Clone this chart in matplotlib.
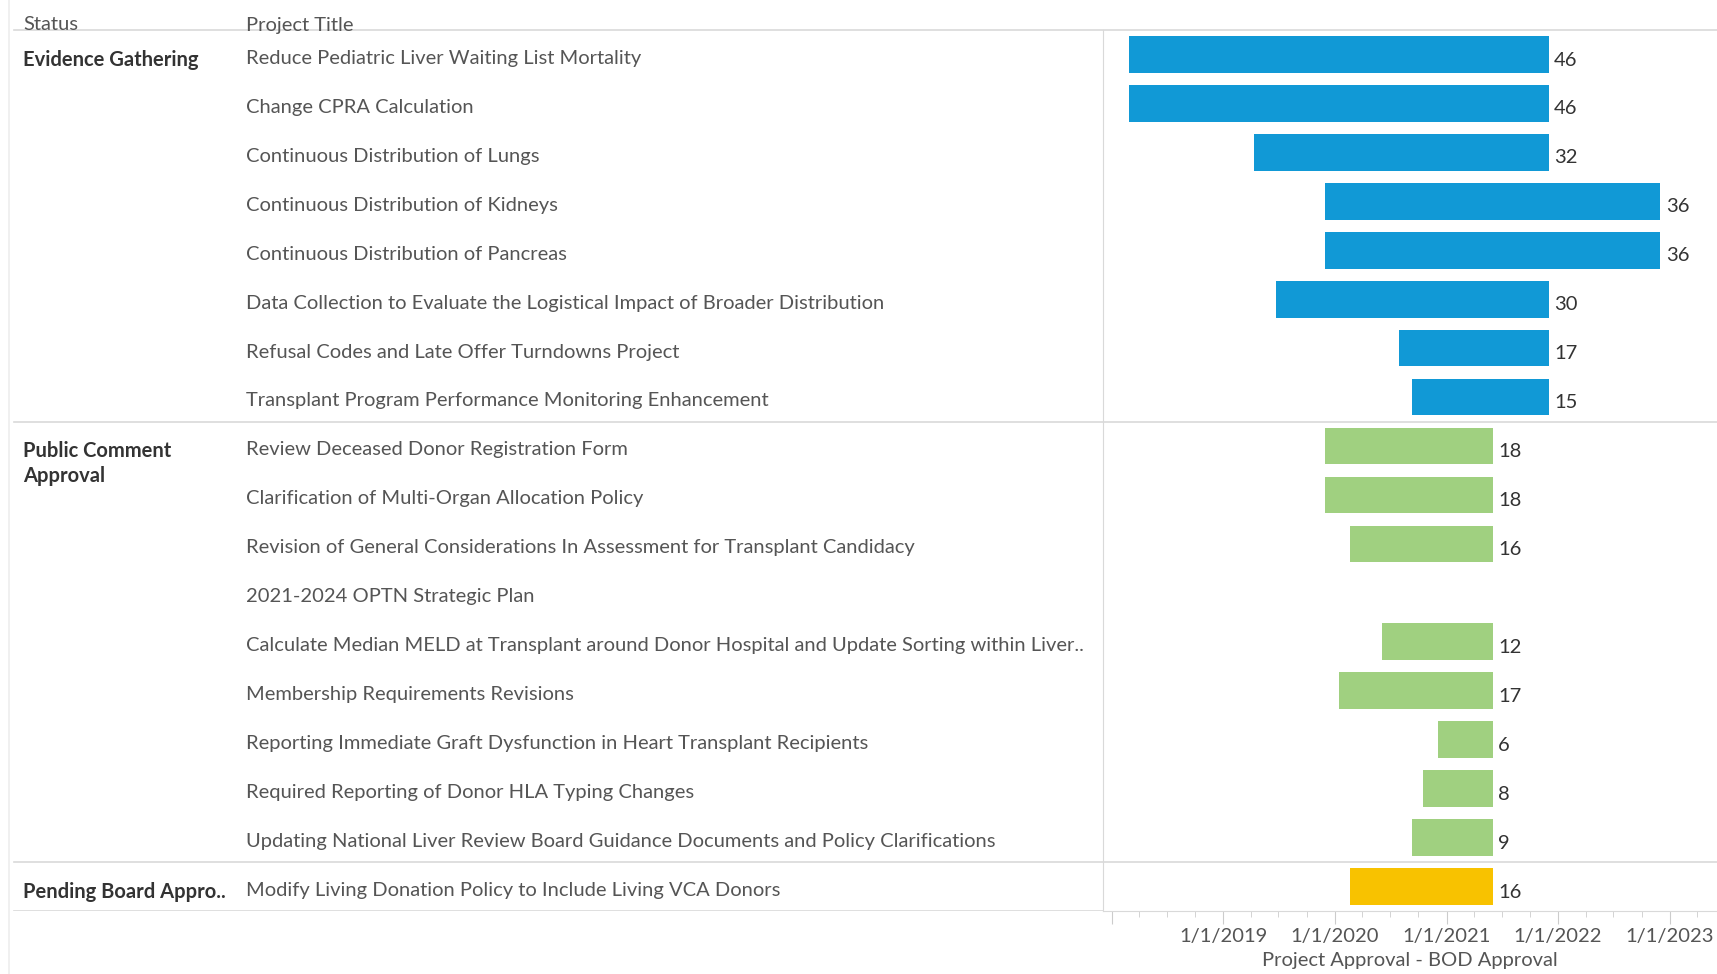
import matplotlib
matplotlib.use("Agg")
import matplotlib.pyplot as plt
import matplotlib.dates as mdates
from matplotlib.lines import Line2D
import pandas as pd

plt.rcParams['font.family'] = ['Lato', 'DejaVu Sans']

# data
statuses = ["Evidence Gathering", "Public Comment\nApproval", "Pending Board Appro.."]
status_counts = [8, 9, 1]
titles = [
    "Reduce Pediatric Liver Waiting List Mortality",
    "Change CPRA Calculation",
    "Continuous Distribution of Lungs",
    "Continuous Distribution of Kidneys",
    "Continuous Distribution of Pancreas",
    "Data Collection to Evaluate the Logistical Impact of Broader Distribution",
    "Refusal Codes and Late Offer Turndowns Project",
    "Transplant Program Performance Monitoring Enhancement",
    "Review Deceased Donor Registration Form",
    "Clarification of Multi-Organ Allocation Policy",
    "Revision of General Considerations In Assessment for Transplant Candidacy",
    "2021-2024 OPTN Strategic Plan",
    "Calculate Median MELD at Transplant around Donor Hospital and Update Sorting within Liver..",
    "Membership Requirements Revisions",
    "Reporting Immediate Graft Dysfunction in Heart Transplant Recipients",
    "Required Reporting of Donor HLA Typing Changes",
    "Updating National Liver Review Board Guidance Documents and Policy Clarifications",
    "Modify Living Donation Policy to Include Living VCA Donors",
]
project_approval = ["2018-02-27", "2018-02-27", "2019-04-12", "2019-12-01", "2019-12-01",
                    "2019-06-24", "2020-07-30", "2020-09-09",
                    "2019-12-01", "2019-12-01", "2020-02-21", None, "2020-06-05",
                    "2020-01-15", "2020-12-05", "2020-10-15", "2020-09-09",
                    "2020-02-21"]
bod_approval = ["2021-12-01", "2021-12-01", "2021-12-01", "2022-12-01", "2022-12-01",
                "2021-12-01", "2021-12-01", "2021-12-01",
                "2021-06-01", "2021-06-01", "2021-06-01", None, "2021-06-01",
                "2021-06-01", "2021-06-01", "2021-06-01", "2021-06-01",
                "2021-06-01"]
months = [46, 46, 32, 36, 36, 30, 17, 15,
          18, 18, 16, None, 12, 17, 6, 8, 9,
          16]
status_colors = ["#1199d6", "#a0d080", "#f8c200"]

year_ticks = ["2018-01-01", "2019-01-01", "2020-01-01", "2021-01-01", "2022-01-01", "2023-01-01"]
year_labels = ["", "1/1/2019", "1/1/2020", "1/1/2021", "1/1/2022", "1/1/2023"]
x_range = ["2017-12-04", "2023-06-05"]

W, H = 1717, 974
top_px, bot_px, div_px = 30, 911, 1103
line_c = "#d9d9d9"
text_c = "#555555"
fs = 14.5

fig = plt.figure(figsize=(W / 100, H / 100), dpi=100)
ax = fig.add_axes([div_px / W, 1 - bot_px / H, (W - div_px) / W, (bot_px - top_px) / H])
ax_t = fig.add_axes([0, 1 - bot_px / H, div_px / W, (bot_px - top_px) / H])

n = len(titles)
colors = []
for c, k in zip(status_colors, status_counts):
    colors += [c] * k

for i in range(n):
    if project_approval[i] is None:
        continue
    left = mdates.date2num(pd.Timestamp(project_approval[i]))
    right = mdates.date2num(pd.Timestamp(bod_approval[i]))
    ax.barh(i, right - left, left=left, height=0.75, color=colors[i], edgecolor="none")
    ax.annotate(str(months[i]), (right, i), xytext=(4, -4), textcoords="offset points",
                va="center", ha="left", fontsize=fs, color="#333333")

ax.set_ylim(n - 0.5, -0.5)
ax_t.set_ylim(n - 0.5, -0.5)
ax_t.set_xlim(0, div_px)
ax_t.axis("off")

ax.set_xlim(mdates.date2num(pd.Timestamp(x_range[0])), mdates.date2num(pd.Timestamp(x_range[1])))
ax.set_xticks([mdates.date2num(pd.Timestamp(t)) for t in year_ticks])
ax.set_xticklabels(year_labels)
ax.xaxis.set_minor_locator(mdates.MonthLocator(bymonth=[4, 7, 10]))
ax.tick_params(axis="x", which="major", length=9, color="#cccccc", labelsize=fs,
               labelcolor=text_c, pad=3)
ax.tick_params(axis="x", which="minor", length=4, color="#cccccc")
ax.set_yticks([])
ax.set_xlabel("Project Approval - BOD Approval", fontsize=fs, color=text_c, labelpad=5)
for sp in ["top", "right"]:
    ax.spines[sp].set_visible(False)
ax.spines["left"].set_color(line_c)
ax.spines["bottom"].set_color(line_c)

# table text
row = 0
for st, k in zip(statuses, status_counts):
    ax_t.text(23, row - 0.1, st, fontsize=fs, fontweight="bold", color="#333333",
              va="top", ha="left", linespacing=1.33)
    row += k
    if row < n:
        ax.axhline(row - 0.5, color=line_c, lw=1.2)
        ax_t.plot([14, div_px], [row - 0.5, row - 0.5], color=line_c, lw=1.2)
ax_t.plot([14, div_px], [n - 0.5, n - 0.5], color=line_c, lw=1.2)

for i, t in enumerate(titles):
    ax_t.text(246, i + 0.08, t, fontsize=fs, color=text_c, va="center", ha="left")

# header
fig.text(23 / W, 1 - 25 / H, "Status", fontsize=fs, color=text_c, va="center")
fig.text(246 / W, 1 - 25 / H, "Project Title", fontsize=fs, color=text_c, va="center")
fig.add_artist(Line2D([14 / W, 1], [1 - top_px / H] * 2, color=line_c, lw=1.2))
fig.add_artist(Line2D([9 / W, 9 / W], [0, 1], color="#eeeeee", lw=1.2))

fig.savefig("out.png", dpi=100)
plt.close()
